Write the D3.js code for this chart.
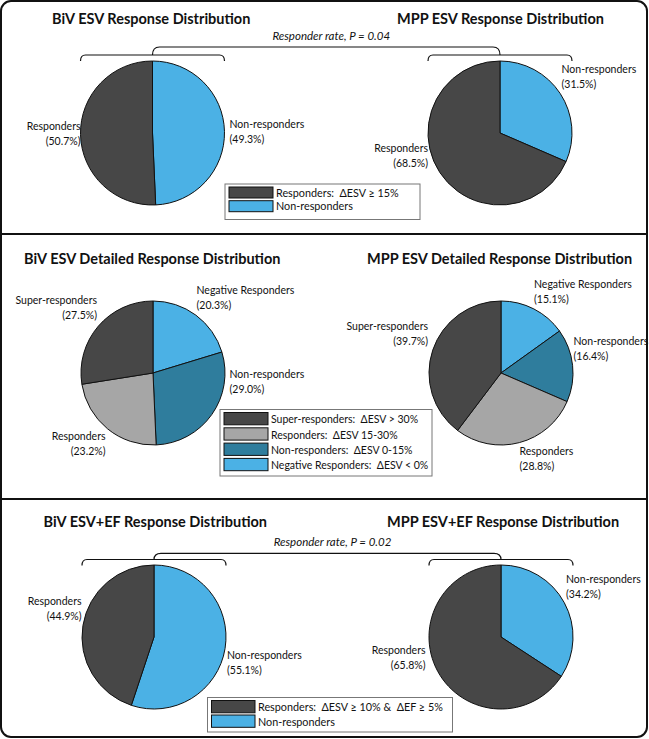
<!DOCTYPE html>
<html>
<head>
<meta charset="utf-8">
<script src="https://cdn.jsdelivr.net/npm/d3@7/dist/d3.min.js"></script>
<style>
  html, body { margin: 0; padding: 0; background: #fff; }
  svg { display: block; }
  text { font-family: Lato, "Open Sans", sans-serif; fill: #111; white-space: pre; }
</style>
</head>
<body>
<svg id="chart" width="649" height="739"></svg>
<script>
// ---------------- DATA ----------------
const simpleCategories = ["Non-responders", "Responders"];
const bivEsv = [49.3, 50.7];
const mppEsv = [31.5, 68.5];

const detailedCategories = ["Negative Responders", "Non-responders", "Responders", "Super-responders"];
const bivDetailed = [20.3, 29.0, 23.2, 27.5];
const mppDetailed = [15.1, 16.4, 28.8, 39.7];

const bivEsvEf = [55.1, 44.9];
const mppEsvEf = [34.2, 65.8];

const panelTitles = [
  ["BiV ESV Response Distribution", "MPP ESV Response Distribution"],
  ["BiV ESV Detailed Response Distribution", "MPP ESV Detailed Response Distribution"],
  ["BiV ESV+EF Response Distribution", "MPP ESV+EF Response Distribution"]
];
const pValueLabels = ["Responder rate, P = 0.04", null, "Responder rate, P = 0.02"];

const legendSimple1 = ["Responders:\u00a0\u00a0\u0394ESV \u2265 15%", "Non-responders"];
const legendDetailed = ["Super-responders:\u00a0\u00a0\u0394ESV > 30%", "Responders:\u00a0\u00a0\u0394ESV 15-30%",
                        "Non-responders:\u00a0\u00a0\u0394ESV 0-15%", "Negative Responders:\u00a0\u00a0\u0394ESV < 0%"];
const legendSimple3 = ["Responders:\u00a0\u00a0\u0394ESV \u2265 10% &\u00a0\u00a0\u0394EF \u2265 5%", "Non-responders"];

// ---------------- STYLE / LAYOUT ----------------
const colorSimple = d3.scaleOrdinal().domain(simpleCategories).range(["#4bb1e5", "#474747"]);
const colorDetailed = d3.scaleOrdinal().domain(detailedCategories)
  .range(["#4bb1e5", "#2f7d9d", "#a6a6a6", "#474747"]);

const R = 72;
const svg = d3.select("#chart");

// frame
svg.append("rect").attr("x", 1).attr("y", 1).attr("width", 646).attr("height", 736)
  .attr("rx", 10).attr("fill", "none").attr("stroke", "#111").attr("stroke-width", 2);
[234, 499].forEach(y => svg.append("line").attr("x1", 1).attr("x2", 647)
  .attr("y1", y).attr("y2", y).attr("stroke", "#111").attr("stroke-width", 2));

const pie = d3.pie().sort(null).value(d => d.v);
const arc = d3.arc().innerRadius(0).outerRadius(R);

function drawPie(cx, cy, values, cats, color) {
  const data = values.map((v, i) => ({ v, c: cats[i] }));
  const g = svg.append("g").attr("transform", `translate(${cx},${cy})`);
  g.selectAll("path").data(pie(data)).join("path")
    .attr("d", arc)
    .attr("fill", d => color(d.data.c))
    .attr("stroke", "#111").attr("stroke-width", 1);
}

function title(x, y, t) {
  svg.append("text").attr("x", x).attr("y", y).attr("font-size", 14.5)
    .attr("font-weight", 700).text(t);
}

function label(x, y, lines, anchor) {
  const t = svg.append("text").attr("font-size", 10.5).attr("text-anchor", anchor || "start");
  lines.forEach((l, i) => t.append("tspan").attr("x", x).attr("y", y + i * 15).text(l));
}

function bracket(cxL, cxR, yTop, yLow, text) {
  const hook = 6, r = 5;
  [cxL, cxR].forEach(cx => {
    const x0 = cx - R, x1 = cx + R;
    svg.append("path").attr("fill", "none").attr("stroke", "#111").attr("stroke-width", 1.2)
      .attr("d", `M${x0},${yLow + hook} Q${x0},${yLow} ${x0 + r},${yLow} L${x1 - r},${yLow} Q${x1},${yLow} ${x1},${yLow + hook}`);
  });
  svg.append("path").attr("fill", "none").attr("stroke", "#111").attr("stroke-width", 1.2)
    .attr("d", `M${cxL},${yLow} Q${cxL},${yTop} ${cxL + r + 2},${yTop} L${cxR - r - 2},${yTop} Q${cxR},${yTop} ${cxR},${yLow}`);
  svg.append("text").attr("x", (cxL + cxR) / 2 + 5).attr("y", yTop - 7)
    .attr("text-anchor", "middle").attr("font-size", 11.5).attr("font-style", "italic")
    .attr("fill", "#222").text(text);
}

function legend(x, y, w, h, items, colors, rowH, swW, swH, fs) {
  svg.append("rect").attr("x", x).attr("y", y).attr("width", w).attr("height", h)
    .attr("fill", "#fff").attr("stroke", "#777").attr("stroke-width", 1);
  items.forEach((t, i) => {
    const ry = y + 3 + i * rowH;
    svg.append("rect").attr("x", x + 4).attr("y", ry).attr("width", swW).attr("height", swH)
      .attr("fill", colors[i]).attr("stroke", "#111").attr("stroke-width", 1);
    svg.append("text").attr("x", x + swW + 7).attr("y", ry + swH - 1.5)
      .attr("font-size", fs).text(t);
  });
}

// ---------- Panel 1 ----------
title(52, 23.5, panelTitles[0][0]);
title(397, 23.5, panelTitles[0][1]);
bracket(152.5, 500, 47, 55, pValueLabels[0]);
drawPie(152.5, 133, bivEsv, simpleCategories, colorSimple);
drawPie(500, 133, mppEsv, simpleCategories, colorSimple);
label(80.5, 130, ["Responders", `(${bivEsv[1].toFixed(1)}%)`], "end");
label(229.5, 127.5, ["Non-responders", `(${bivEsv[0].toFixed(1)}%)`]);
label(561.5, 72.5, ["Non-responders", `(${mppEsv[0].toFixed(1)}%)`]);
label(428, 152, ["Responders", `(${mppEsv[1].toFixed(1)}%)`], "end");
legend(225, 184, 195, 35.5, legendSimple1, [colorSimple("Responders"), colorSimple("Non-responders")], 13.7, 44, 11, 10.8);

// ---------- Panel 2 ----------
title(24, 263.5, panelTitles[1][0]);
title(367, 263.5, panelTitles[1][1]);
drawPie(153, 373, bivDetailed, detailedCategories, colorDetailed);
drawPie(501, 373, mppDetailed, detailedCategories, colorDetailed);
label(196.5, 294, ["Negative Responders", `(${bivDetailed[0].toFixed(1)}%)`]);
label(97, 304, ["Super-responders", `(${bivDetailed[3].toFixed(1)}%)`], "end");
label(229.5, 377.5, ["Non-responders", `(${bivDetailed[1].toFixed(1)}%)`]);
label(105.5, 440, ["Responders", `(${bivDetailed[2].toFixed(1)}%)`], "end");
label(534, 287.5, ["Negative Responders", `(${mppDetailed[0].toFixed(1)}%)`]);
label(428, 330, ["Super-responders", `(${mppDetailed[3].toFixed(1)}%)`], "end");
label(573.5, 345, ["Non-responders", `(${mppDetailed[1].toFixed(1)}%)`]);
label(519.5, 454.5, ["Responders", `(${mppDetailed[2].toFixed(1)}%)`]);
legend(220, 409.5, 212, 66.5, legendDetailed,
  ["Super-responders", "Responders", "Non-responders", "Negative Responders"].map(c => colorDetailed(c)),
  15.3, 44, 12.3, 10.5);

// ---------- Panel 3 ----------
title(43.5, 527, panelTitles[2][0]);
title(387, 527, panelTitles[2][1]);
bracket(154, 501, 553.3, 559.5, pValueLabels[2]);
drawPie(154, 637, bivEsvEf, simpleCategories, colorSimple);
drawPie(501, 637, mppEsvEf, simpleCategories, colorSimple);
label(81.5, 605, ["Responders", `(${bivEsvEf[1].toFixed(1)}%)`], "end");
label(227, 658.5, ["Non-responders", `(${bivEsvEf[0].toFixed(1)}%)`]);
label(566, 583, ["Non-responders", `(${mppEsvEf[0].toFixed(1)}%)`]);
label(425.5, 653.5, ["Responders", `(${mppEsvEf[1].toFixed(1)}%)`], "end");
legend(207.5, 697.5, 245, 34.5, legendSimple3, [colorSimple("Responders"), colorSimple("Non-responders")], 14.5, 43.5, 12.3, 10.8);
</script>
</body>
</html>
